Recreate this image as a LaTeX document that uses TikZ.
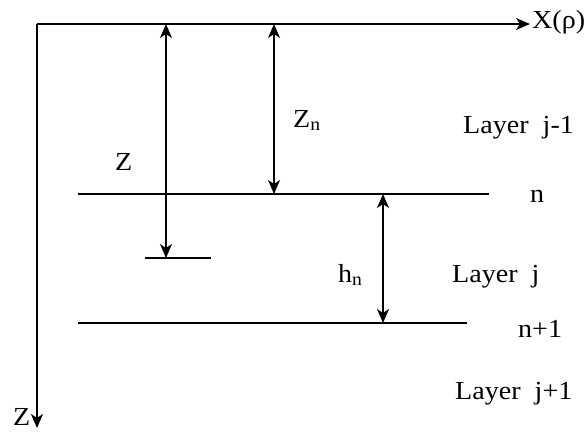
\documentclass[tikz,border=0pt]{standalone}
\usepackage{fontspec}
\setmainfont[FakeStretch=1.08]{Liberation Serif}
\usepackage{tikz}
\tikzset{
    layerline/.style={line width=1.6pt},
    dimarrow/.style={line width=1.6pt, {Stealth[length=14pt,width=12pt,inset=4pt]}-{Stealth[length=14pt,width=12pt,inset=4pt]}},
    axisarrow/.style={line width=1.6pt, -{Stealth[length=14pt,width=12pt,inset=4pt]}},
    layerlabel/.style={anchor=base west, inner sep=0pt, font=\fontsize{26}{30}\selectfont}
}
\usetikzlibrary{arrows.meta,positioning}

\begin{document}
\begin{tikzpicture}[x=1pt, y=-1pt]
    \useasboundingbox (0,0) rectangle (584,432);
    % axes
    \coordinate (o) at (37,24);
    \coordinate (xend) at (530,24);
    \coordinate (zend) at (37,428);
    \draw[axisarrow] (o)--(xend);
    \draw[axisarrow] (o)--(zend);
    \node[layerlabel] (xlab) at (532,28) {X(ρ)};
    \node[layerlabel] (zlab) at (13,425) {Z};
    % interfaces
    \coordinate (na) at (78,194);
    \coordinate (nb) at (489,194);
    \coordinate (ma) at (78,323);
    \coordinate (mb) at (467,323);
    \coordinate (pa) at (145,258);
    \coordinate (pb) at (211,258);
    \draw[layerline] (na)--(nb);
    \draw[layerline] (ma)--(mb);
    \draw[layerline] (pa)--(pb);
    % depths
    \coordinate (za) at (166,24);
    \coordinate (zb) at (166,258);
    \coordinate (zna) at (274,24);
    \coordinate (znb) at (274,194);
    \coordinate (ha) at (383,194);
    \coordinate (hb) at (383,323);
    \draw[dimarrow] (za)--(zb);
    \draw[dimarrow] (zna)--(znb);
    \draw[dimarrow] (ha)--(hb);
    \node[layerlabel] (zdep) at (115,170) {Z};
    \node[layerlabel] (zndep) at (293,127) {Z\textsubscript{n}};
    \node[layerlabel] (hdep) at (338,282) {h\textsubscript{n}};
    % layer names
    \node[layerlabel] (lay1) at (463,133) {Layer\ \ j-1};
    \node[layerlabel] (lay2) at (452,282) {Layer\ \ j};
    \node[layerlabel] (lay3) at (455,399) {Layer\ \ j+1};
    \node[layerlabel] (nlab) at (530,202) {n};
    \node[layerlabel] (mlab) at (518,337) {n+1};
\end{tikzpicture}
\end{document}
